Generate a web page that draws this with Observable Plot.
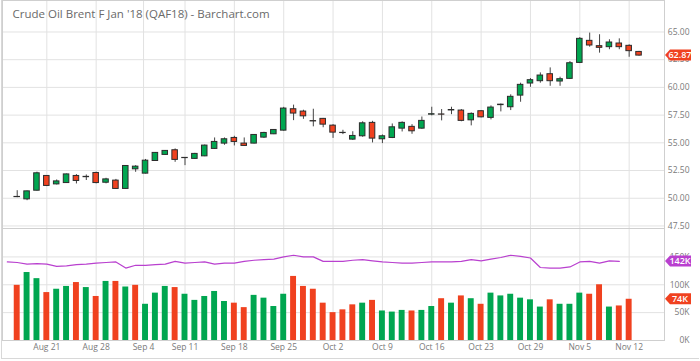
<!DOCTYPE html>
<html>
<head>
<meta charset="utf-8">
<script src="https://cdn.jsdelivr.net/npm/d3@7"></script>
<script src="https://cdn.jsdelivr.net/npm/@observablehq/plot@0.6"></script>
<style>
  html, body { margin: 0; padding: 0; background: #fff; }
  #wrap { position: relative; width: 700px; height: 361px; overflow: hidden; }
  #wrap svg { display: block; overflow: visible; }
  #border { position: absolute; left: 1px; top: 0; width: 698px; height: 359px; border-left: 1px solid #d8d8d8; border-bottom: 1px solid #d8d8d8; pointer-events: none; box-sizing: border-box; }
</style>
</head>
<body>
<div id="wrap"><div id="border"></div></div>
<script>
// ---- Data (daily bars, index 0 = Aug 16 2017) ----
const title = "Crude Oil Brent F Jan '18 (QAF18) - Barchart.com";
const open  = [50.12,49.90,50.68,52.01,51.25,51.37,52.01,51.90,52.28,51.40,51.59,50.84,52.61,52.22,53.36,53.91,54.33,53.62,53.55,53.78,54.45,54.93,55.44,54.93,54.93,55.47,55.77,56.10,58.03,57.82,56.96,57.16,56.55,55.90,55.29,55.59,56.80,55.32,55.44,56.28,56.44,56.28,57.54,57.56,57.96,57.91,57.03,57.85,57.25,58.40,58.21,59.26,60.35,60.56,61.19,60.53,60.77,62.21,64.20,63.72,63.63,63.96,63.75,63.20];
const high  = [50.68,50.65,52.35,52.05,51.65,52.18,52.13,52.10,52.35,51.80,51.70,52.95,52.94,53.50,54.12,54.30,54.45,53.66,54.05,54.80,55.44,55.44,55.59,55.44,55.75,55.95,56.20,58.20,58.40,57.94,58.03,57.20,56.64,56.13,56.00,56.90,56.94,55.71,56.70,56.89,56.64,57.33,58.21,58.00,58.21,58.00,57.70,57.90,58.33,58.50,59.33,60.38,60.80,61.31,61.76,60.92,62.33,64.50,64.90,64.75,64.30,64.38,63.84,63.25];
const low   = [50.05,49.78,50.65,51.05,51.20,51.35,51.29,51.60,51.30,51.30,50.80,50.80,52.34,52.19,53.33,53.88,53.24,52.94,53.50,53.75,54.40,54.78,54.72,54.70,54.90,55.40,55.74,56.05,57.00,57.12,56.44,56.36,55.40,55.74,55.22,55.50,54.99,54.93,55.38,55.98,55.77,56.22,57.43,56.98,57.54,56.90,56.53,57.25,57.07,57.79,57.91,58.66,60.01,60.38,60.10,60.10,60.71,62.15,63.63,63.09,63.40,63.40,62.72,62.82];
const close = [50.10,50.62,52.25,51.11,51.52,52.15,51.56,51.93,51.37,51.70,50.84,52.91,52.85,53.39,54.09,54.27,53.46,53.64,54.00,54.75,55.08,55.32,55.08,54.72,55.71,55.89,56.16,58.09,57.64,57.39,56.93,56.64,55.92,55.88,55.62,56.76,55.38,55.59,56.40,56.80,56.04,56.98,57.58,57.54,57.92,56.98,57.61,57.30,58.18,58.44,59.15,60.23,60.65,61.07,60.56,60.74,62.18,64.38,63.78,63.57,64.05,63.63,63.27,62.87];
const priorClose = 50.30;
// Volume in thousands of contracts (bars 0..62)
const volume = [99,122,111,86,92,97,104,95,79,106,106,96,99,65,85,97,95,83,72,79,88,70,67,59,81,76,61,83,115,97,92,67,50,55,64,67,72,53,51,54,53,54,61,75,67,80,75,65,85,80,83,76,73,60,73,65,65,85,83,100,60,62,74];
// Open interest in thousands (plotted one slot earlier than its volume bar)
const openInterest = [141,140,137,138,137,133,134,136,137,139,140,141,130,135,135,136,137,142,139,140,141,137,139,139,142,144,145,146,150,153,150,150,142,142,142,144,145,143,141,140,139,139,140,141,141,141,142,145,143,146,149,153,151,148,131,130,130,132,141,142,139,143,142];
// Axis ticks
const tickPos = [3, 8, 12.8, 17, 22, 27, 32, 37, 42, 47, 52, 57, 62];
const tickLabels = ["Aug 21","Aug 28","Sep 4","Sep 11","Sep 18","Sep 25","Oct 2","Oct 9","Oct 16","Oct 23","Oct 29","Nov 5","Nov 12"];
const priceTicks = [47.5, 50, 52.5, 55, 57.5, 60, 62.5, 65];
const volTicks = [0, 50, 100, 150];
const lastPrice = 62.87, lastOI = 142, lastVolume = 74;

// ---- Derived tables ----
const candles = open.map((o, i) => ({i, open: o, high: high[i], low: low[i], close: close[i]}));
const vols = volume.map((v, i) => ({i, v, up: close[i] >= (i === 0 ? priorClose : close[i - 1])}));
const oi = openInterest.map((v, i) => ({i: i - 1, v}));

const GREEN = "#00a650", RED = "#f0411f", PURPLE = "#b940cf", GRID = "#e2e2e2", TXT = "#7a7a7a";
const xDomain = [-1.49, 65.58];
const font = "'Open Sans', sans-serif";

const price = Plot.plot({
  width: 700, height: 228,
  marginLeft: 2, marginRight: 36, marginTop: 0, marginBottom: 0,
  x: {domain: xDomain, axis: null},
  y: {domain: [47.27, 67.84], axis: null},
  style: {fontFamily: font, background: "transparent", overflow: "visible"},
  marks: [
    Plot.ruleY(priceTicks, {stroke: GRID}),
    Plot.ruleX(tickPos, {stroke: GRID}),
    Plot.text(priceTicks, {y: d => d, text: d => d.toFixed(2), frameAnchor: "right", dx: 25, textAnchor: "end", fill: TXT, fontSize: 8.5}),
    Plot.text([title], {text: d => d, frameAnchor: "top-left", dx: 10, dy: 14, textAnchor: "start", lineAnchor: "middle", fill: "#6a6a6a", fontSize: 11.5}),
    Plot.ruleX(candles, {x: "i", y1: "low", y2: "high", stroke: "#444", strokeWidth: 1}),
    Plot.rect(candles, {x1: d => d.i - 0.28, x2: d => d.i + 0.28, y1: "open", y2: "close",
      fill: d => d.close >= d.open ? GREEN : RED, stroke: "#2c2c2c", strokeWidth: 1}),
    Plot.frame({stroke: "#cfcfcf"})
  ]
});

const vol = Plot.plot({
  width: 700, height: 133,
  marginLeft: 2, marginRight: 36, marginTop: 0, marginBottom: 21,
  x: {domain: xDomain, axis: null},
  y: {domain: [0, 201], axis: null},
  style: {fontFamily: font, background: "transparent", overflow: "visible"},
  marks: [
    Plot.ruleY(volTicks.filter(d => d > 0), {stroke: GRID}),
    Plot.ruleX(tickPos, {stroke: GRID}),
    Plot.rect(vols, {x1: d => d.i - 0.3, x2: d => d.i + 0.3, y1: 0, y2: "v", fill: d => d.up ? GREEN : RED}),
    Plot.line(oi, {x: "i", y: "v", stroke: PURPLE, strokeWidth: 1.2}),
    Plot.text(volTicks, {y: d => d, text: d => d + "K", frameAnchor: "right", dx: 25, textAnchor: "end", fill: TXT, fontSize: 8.5}),
    Plot.text(tickPos, {x: d => d, text: (d, i) => tickLabels[i], frameAnchor: "bottom", dy: 9, fill: TXT, fontSize: 8.5}),
    Plot.frame({stroke: "#cfcfcf"})
  ]
});

function tag(chart, value, label, color) {
  const y = chart.scale("y").apply(value);
  const svg = d3.select(chart);
  const x0 = 665, x1 = 670, x2 = 691, h = 5.5;
  svg.append("path")
    .attr("d", `M${x0},${y} L${x1},${y - h} L${x2},${y - h} L${x2},${y + h} L${x1},${y + h} Z`)
    .attr("fill", color);
  svg.append("text")
    .attr("x", (x1 + x2) / 2 - 0.5).attr("y", y).attr("dy", "0.35em")
    .attr("text-anchor", "middle").attr("fill", "#fff")
    .attr("font-size", 9).attr("font-weight", 600).attr("font-family", font)
    .text(label);
}
tag(price, lastPrice, lastPrice.toFixed(2), RED);
tag(vol, lastOI, lastOI + "K", PURPLE);
tag(vol, lastVolume, lastVolume + "K", RED);

const wrap = document.getElementById("wrap");
wrap.insertBefore(vol, wrap.firstChild);
wrap.insertBefore(price, vol);
</script>
</body>
</html>
